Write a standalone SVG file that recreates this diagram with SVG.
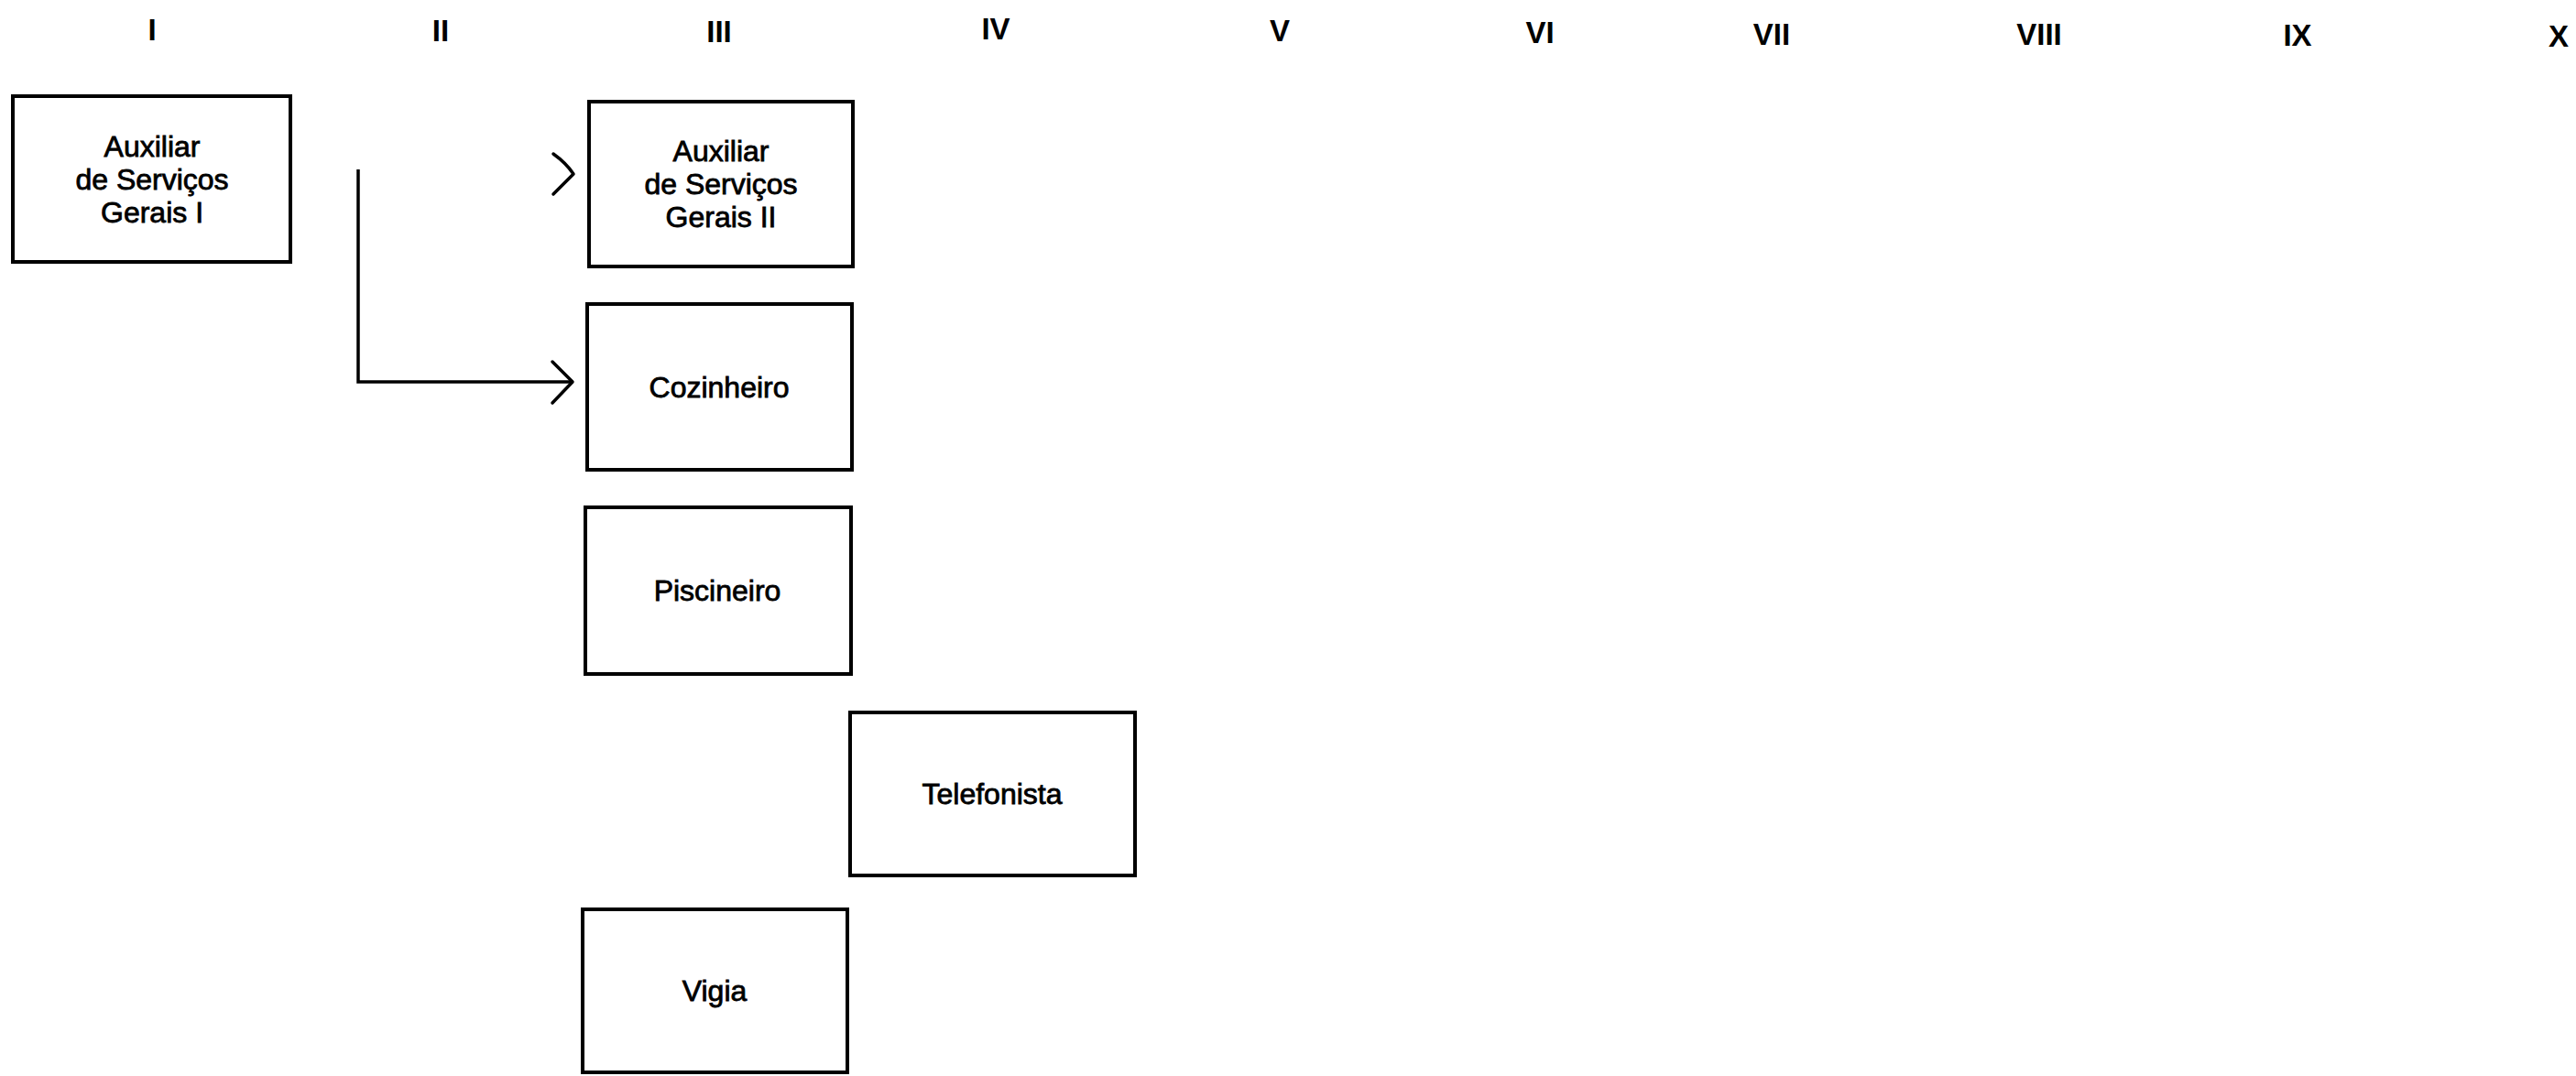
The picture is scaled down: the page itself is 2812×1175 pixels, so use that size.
<svg xmlns="http://www.w3.org/2000/svg" width="2812" height="1175" viewBox="0 0 2812 1175">
  <style>
    .bg { fill: #ffffff; }
    .box { fill: #ffffff; stroke: #000000; stroke-width: 4; }
    .lbl { font-family: "Liberation Sans", Arial, sans-serif; font-size: 32px; fill: #000000; stroke: #000000; stroke-width: 0.8; text-anchor: middle; }
    .col { font-family: "Liberation Sans", Arial, sans-serif; font-size: 33px; font-weight: bold; fill: #000000; text-anchor: middle; }
    .wire { fill: none; stroke: #000000; stroke-width: 3.5; }
    .head { fill: none; stroke: #000000; stroke-width: 3.5; stroke-linecap: round; stroke-linejoin: round; }
  </style>
  <rect class="bg" x="0" y="0" width="2812" height="1175"/>

  <!-- level headers -->
  <g id="levels">
    <text class="col" x="166" y="44">I</text>
    <text class="col" x="481" y="45">II</text>
    <text class="col" x="785" y="46">III</text>
    <text class="col" x="1087" y="43">IV</text>
    <text class="col" x="1397" y="45">V</text>
    <text class="col" x="1681" y="47">VI</text>
    <text class="col" x="1934" y="49">VII</text>
    <text class="col" x="2226" y="49">VIII</text>
    <text class="col" x="2508" y="50">IX</text>
    <text class="col" x="2793" y="51">X</text>
  </g>

  <!-- connectors -->
  <g id="connectors">
    <path class="wire" d="M391,185 L391,417 L625,417"/>
    <path class="head" d="M603,395 L625,417 L603,440"/>
    <path class="head" d="M604,168 Q618,178 626,190 Q616,200 604,212"/>
  </g>

  <g id="aux-servicos-gerais-1">
    <rect class="box" x="14" y="105" width="303" height="181"/>
    <text class="lbl" x="166" y="171">Auxiliar</text>
    <text class="lbl" x="166" y="207">de Serviços</text>
    <text class="lbl" x="166" y="243">Gerais I</text>
  </g>

  <g id="aux-servicos-gerais-2">
    <rect class="box" x="643" y="111" width="288" height="180"/>
    <text class="lbl" x="787" y="176">Auxiliar</text>
    <text class="lbl" x="787" y="212">de Serviços</text>
    <text class="lbl" x="787" y="248">Gerais II</text>
  </g>

  <g id="cozinheiro">
    <rect class="box" x="641" y="332" width="289" height="181"/>
    <text class="lbl" x="785" y="434">Cozinheiro</text>
  </g>

  <g id="piscineiro">
    <rect class="box" x="639" y="554" width="290" height="182"/>
    <text class="lbl" x="783" y="656">Piscineiro</text>
  </g>

  <g id="telefonista">
    <rect class="box" x="928" y="778" width="311" height="178"/>
    <text class="lbl" x="1083" y="878">Telefonista</text>
  </g>

  <g id="vigia">
    <rect class="box" x="636" y="993" width="289" height="178"/>
    <text class="lbl" x="780" y="1093">Vigia</text>
  </g>
</svg>
